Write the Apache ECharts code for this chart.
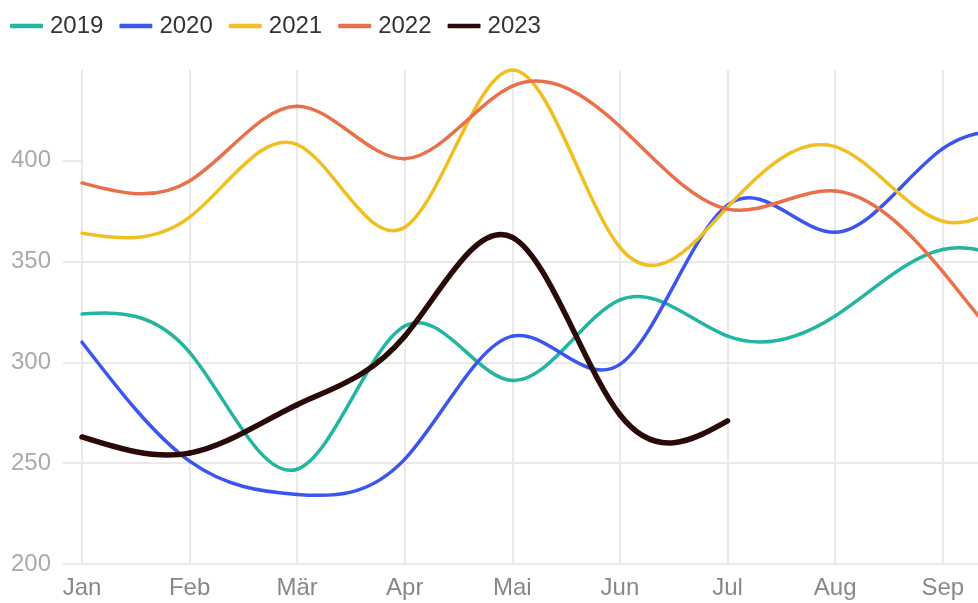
<!DOCTYPE html>
<html>
<head>
<meta charset="utf-8">
<script src="https://cdn.jsdelivr.net/npm/echarts@6/dist/echarts.min.js"></script>
<style>
  html, body { margin: 0; padding: 0; background: #ffffff; overflow: hidden; }
  #main { width: 1300px; height: 603px; }
</style>
</head>
<body>
<div id="main"></div>
<script>
// Categories (x axis)
const months = ['Jan', 'Feb', 'Mär', 'Apr', 'Mai', 'Jun', 'Jul', 'Aug', 'Sep', 'Okt', 'Nov', 'Dez'];
// Series values
const series2019 = [324, 305, 247, 318, 291, 331, 313, 323, 356, 344, 340, 355];
const series2020 = [310, 251, 234.5, 252, 313, 299, 378, 364.5, 406, 410, 400, 420];
const series2021 = [364, 372, 408, 367, 445, 357, 377, 407, 370, 392, 400, 385];
const series2022 = [389, 390, 427, 401, 437, 417, 376, 385, 345, 290, 300, 310];
const series2023 = [263, 255, 279, 313, 362, 274, 271];
// Series names and y tick labels
const seriesNames = ['2019', '2020', '2021', '2022', '2023'];
const yTicks = [200, 250, 300, 350, 400];

const colors = ['#22b59f', '#3b56ee', '#f0bf24', '#e8704b', '#2a0a06'];
const widths = [3.5, 3.5, 3.5, 3.5, 5.5];
const allData = [series2019, series2020, series2021, series2022, series2023];
const gridColor = '#e9e9e9';

// natural cubic spline control points (same scheme as d3.curveNatural)
function controlPoints(x) {
  const n = x.length - 1;
  const a = new Array(n), b = new Array(n), r = new Array(n);
  a[0] = 0; b[0] = 2; r[0] = x[0] + 2 * x[1];
  for (let i = 1; i < n - 1; ++i) { a[i] = 1; b[i] = 4; r[i] = 4 * x[i] + 2 * x[i + 1]; }
  a[n - 1] = 2; b[n - 1] = 7; r[n - 1] = 8 * x[n - 1] + x[n];
  for (let i = 1; i < n; ++i) { const m = a[i] / b[i - 1]; b[i] -= m; r[i] -= m * r[i - 1]; }
  a[n - 1] = r[n - 1] / b[n - 1];
  for (let i = n - 2; i >= 0; --i) a[i] = (r[i] - a[i + 1]) / b[i];
  b[n - 1] = (x[n] + a[n - 1]) / 2;
  for (let i = 0; i < n - 1; ++i) b[i] = 2 * x[i + 1] - a[i + 1];
  return [a, b];
}

function makeRenderItem(si) {
  return function (params, api) {
    if (params.dataIndex !== 0) return null;
    const vals = allData[si];
    const pts = vals.map((v, j) => api.coord([j, v]));
    const xs = pts.map(p => p[0]);
    const ys = pts.map(p => p[1]);
    const px = controlPoints(xs);
    const py = controlPoints(ys);
    const children = [];
    for (let k = 0; k < pts.length - 1; k++) {
      children.push({
        type: 'bezierCurve',
        shape: {
          x1: xs[k], y1: ys[k], x2: xs[k + 1], y2: ys[k + 1],
          cpx1: px[0][k], cpy1: py[0][k], cpx2: px[1][k], cpy2: py[1][k]
        },
        style: { stroke: colors[si], lineWidth: widths[si], fill: null, lineCap: 'round', lineJoin: 'round' }
      });
    }
    return { type: 'group', children: children };
  };
}

const chart = echarts.init(document.getElementById('main'), null, { renderer: 'canvas' });
chart.setOption({
  animation: false,
  backgroundColor: '#ffffff',
  color: colors,
  legend: {
    left: 5,
    top: 9,
    itemWidth: 33,
    itemHeight: 4.5,
    itemGap: 16,
    icon: 'roundRect',
    textStyle: { fontSize: 24, color: '#333333', padding: [0, 0, 0, 2], fontFamily: 'Liberation Sans, Arial, sans-serif' },
    data: seriesNames
  },
  grid: { left: 82, right: 34.5, top: 70, bottom: 39, containLabel: false },
  xAxis: {
    type: 'category',
    data: months,
    boundaryGap: false,
    axisLine: { show: false },
    axisTick: { show: false },
    axisLabel: { fontSize: 24, color: '#888888', margin: 12, fontFamily: 'Liberation Sans, Arial, sans-serif' },
    splitLine: { show: true, lineStyle: { color: gridColor, width: 2 } }
  },
  yAxis: {
    type: 'value',
    min: 200,
    max: 'dataMax',
    interval: 50,
    axisLine: { show: false },
    axisTick: { show: true, length: 19, customValues: yTicks, lineStyle: { color: gridColor, width: 2 } },
    axisLabel: { fontSize: 24, color: '#aaaaaa', margin: 31, customValues: yTicks, fontFamily: 'Liberation Sans, Arial, sans-serif' },
    splitLine: { show: true, showMaxLine: false, lineStyle: { color: gridColor, width: 2 } }
  },
  series: seriesNames.map((name, i) => ({
    name: name,
    type: 'custom',
    data: allData[i].map((v, j) => [j, v]),
    encode: { x: 0, y: 1 },
    renderItem: makeRenderItem(i),
    itemStyle: { color: colors[i] },
    clip: false,
    z: i === 4 ? 5 : 2
  }))
});
</script>
</body>
</html>
